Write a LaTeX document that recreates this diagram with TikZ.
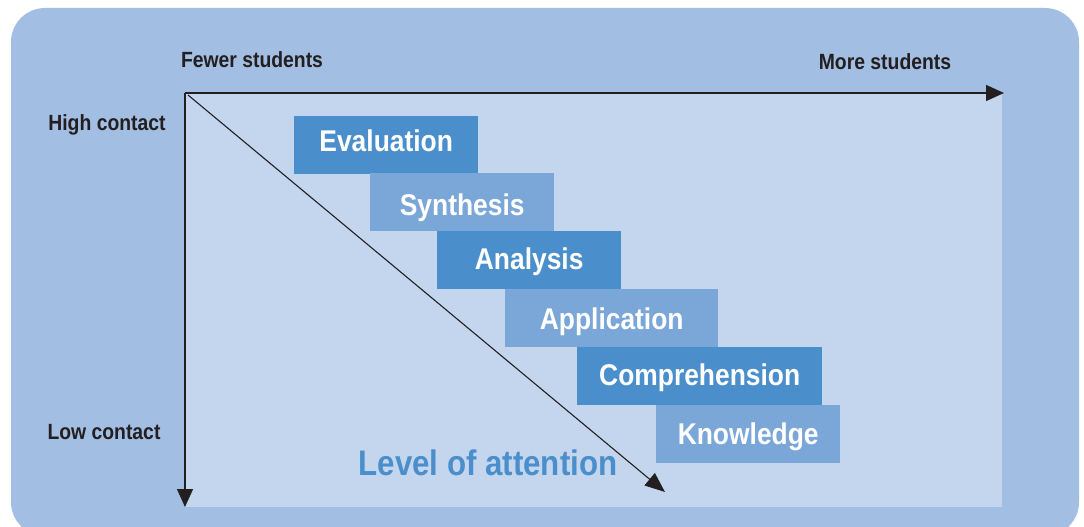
\documentclass[tikz,border=0pt]{standalone}
\usepackage{fontspec}
\setmainfont[FakeStretch=0.88]{Liberation Sans}
\usetikzlibrary{arrows.meta}
\definecolor{outerbg}{HTML}{A3BEE3}
\definecolor{innerbg}{HTML}{C4D5EE}
\definecolor{darkstep}{HTML}{4A8ECC}
\definecolor{lightstep}{HTML}{7AA7D8}
\definecolor{inkdark}{HTML}{231F20}
\begin{document}
\begin{tikzpicture}[x=1pt,y=-1pt,
  stepbox/.style={rectangle,inner sep=0pt,anchor=north west,text=white,
    minimum height=58pt,text height=30pt,
    font=\fontsize{30}{32}\selectfont\bfseries},
  darkbox/.style={stepbox,fill=darkstep},
  lightbox/.style={stepbox,fill=lightstep},
  axislabel/.style={text=inkdark,inner sep=0pt,font=\fontsize{22}{24}\selectfont\bfseries},
  axis/.style={draw=inkdark,line width=1.4pt,-{Triangle[length=18pt,width=16pt]}},
  diag/.style={draw=inkdark,line width=1.1pt,-{Triangle[length=20pt,width=16pt]}}]
\useasboundingbox (0,0) rectangle (1084,527);
\clip (0,0) rectangle (1084,527);
% background panels
\fill[outerbg,rounded corners=34pt] (11,8) rectangle (1079,536);
\fill[innerbg] (185,93) rectangle (1002,507);
% axes
\coordinate (origin) at (185,93);
\coordinate (xend) at (1004,93);
\coordinate (yend) at (185,507);
\coordinate (dstart) at (188,95);
\coordinate (dend) at (665,492);
\draw[axis] (origin) -- (xend);
\draw[axis] (origin) -- (yend);
\draw[diag] (dstart) -- (dend);
% axis labels
\node[axislabel] (fewer) at (252,60) {Fewer students};
\node[axislabel] (more) at (885,62) {More students};
\node[axislabel] (high) at (107,125) {High contact};
\node[axislabel] (low) at (104,432) {Low contact};
% staircase of levels (text depth sets each baseline)
\node[darkbox,minimum width=184pt,text depth=16.6pt] (eval) at (294,116) {Evaluation};
\node[lightbox,minimum width=184pt,text depth=4pt] (synth) at (370,173) {Synthesis};
\node[darkbox,minimum width=184pt,text depth=12pt] (anal) at (437,231) {Analysis};
\node[lightbox,minimum width=213pt,text depth=8pt] (appl) at (505,289) {Application};
\node[darkbox,minimum width=245pt,text depth=12pt] (compr) at (577,347) {Comprehension};
\node[lightbox,minimum width=184pt,text depth=10pt] (know) at (656,405) {Knowledge};
% caption along the diagonal
\node[text=darkstep,inner sep=0pt,font=\fontsize{35.5}{38}\selectfont\bfseries] (attn) at (488,463) {Level of attention};
\end{tikzpicture}
\end{document}
